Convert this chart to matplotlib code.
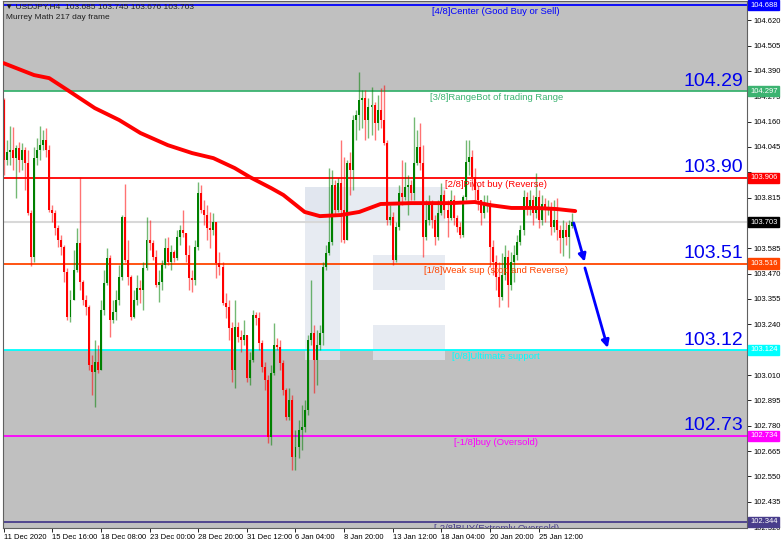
import matplotlib
matplotlib.use('Agg')
import matplotlib.pyplot as plt
import matplotlib.patches as mpatches
import matplotlib.transforms as mtransforms
import numpy as np

plt.rcParams['font.family'] = ['Liberation Sans', 'DejaVu Sans']

# USDJPY H4 candles (bar 0 = 11 Dec 2020 00:00)
first_open = 104.258
closes = [
    103.985, 104.022, 104.031, 103.994, 104.040, 103.985, 104.031, 103.972, 103.745, 103.546,
    103.994, 104.031, 104.053, 104.076, 104.031, 103.759, 103.745, 103.677, 103.623, 103.591,
    103.478, 103.273, 103.350, 103.487, 103.609, 103.432, 103.350, 103.319, 103.056, 103.024,
    103.069, 103.033, 103.305, 103.428, 103.541, 103.260, 103.296, 103.350, 103.455, 103.727,
    103.532, 103.455, 103.273, 103.350, 103.405, 103.396, 103.496, 103.623, 103.609, 103.546,
    103.419, 103.432, 103.509, 103.586, 103.523, 103.568, 103.541, 103.636, 103.668, 103.654,
    103.555, 103.450, 103.441, 103.591, 103.836, 103.759, 103.736, 103.677, 103.668, 103.704,
    103.518, 103.500, 103.337, 103.319, 103.224, 103.033, 103.228, 103.183, 103.169, 103.192,
    102.997, 103.078, 103.282, 103.269, 103.156, 103.047, 102.988, 102.729, 103.019, 103.147,
    103.137, 103.065, 102.942, 102.820, 102.897, 102.639, 102.684, 102.761, 102.775, 102.852,
    103.169, 103.201, 103.078, 103.147, 103.201, 103.500, 103.564, 103.614, 103.872, 103.759,
    103.881, 103.759, 103.623, 103.972, 103.940, 104.167, 104.189, 104.258, 104.267, 104.167,
    104.226, 104.235, 104.153, 104.212, 104.167, 104.063, 103.713, 103.727, 103.532, 103.682,
    103.836, 103.818, 103.863, 103.872, 103.836, 103.972, 104.044, 103.972, 103.636, 103.713,
    103.790, 103.713, 103.636, 103.745, 103.827, 103.759, 103.722, 103.804, 103.722,
    103.682, 103.645, 103.818, 103.976, 103.999, 103.908, 103.849, 103.804, 103.745,
    103.781, 103.790, 103.591, 103.523, 103.455, 103.364, 103.464, 103.546, 103.419, 103.523,
    103.555, 103.614, 103.668, 103.818, 103.772, 103.804, 103.745, 103.818, 103.713, 103.786,
    103.759, 103.768, 103.682, 103.713, 103.668, 103.632, 103.668, 103.636, 103.691, 103.703,
]
highs = [
    104.267, 104.076, 104.140, 104.135, 104.053, 104.067, 104.063, 104.044, 104.031, 103.759,
    104.044, 104.085, 104.140, 104.121, 104.131, 104.053, 103.781, 103.759, 103.691, 103.645,
    103.600, 103.496, 103.396, 103.577, 103.677, 103.908, 103.441, 103.373, 103.328, 103.101,
    103.169, 103.147, 103.350, 103.487, 103.586, 103.555, 103.350, 103.396, 103.509, 103.736,
    103.877, 103.623, 103.464, 103.396, 103.464, 103.441, 103.523, 103.727, 103.713, 103.623,
    103.577, 103.487, 103.532, 103.632, 103.636, 103.600, 103.577, 103.668, 103.691, 103.759,
    103.623, 103.600, 103.487, 103.623, 103.886, 103.872, 103.804, 103.781, 103.750, 103.745,
    103.677, 103.568, 103.523, 103.382, 103.350, 103.251, 103.350, 103.251, 103.214, 103.260,
    103.169, 103.115, 103.305, 103.296, 103.296, 103.169, 103.069, 103.010, 103.056, 103.246,
    103.178, 103.169, 103.078, 102.951, 102.951, 102.920, 102.761, 102.806, 102.874, 102.897,
    103.192, 103.441, 103.237, 103.214, 103.237, 103.523, 103.600, 103.949, 103.940, 103.895,
    103.904, 104.076, 103.999, 103.985, 104.022, 104.189, 104.212, 104.384, 104.303, 104.303,
    104.267, 104.316, 104.248, 104.280, 104.312, 104.326, 104.076, 103.781, 103.750, 103.704,
    103.872, 103.985, 103.976, 103.917, 103.895, 104.180, 104.121, 104.153, 104.053, 103.804,
    103.827, 103.804, 103.736, 103.804, 103.881, 103.849, 103.804, 103.849, 103.827,
    103.736, 103.704, 103.827, 104.076, 104.076, 104.031, 103.949, 103.872, 103.804,
    103.827, 103.827, 103.804, 103.623, 103.555, 103.523, 103.564, 103.600, 103.577, 103.568,
    103.600, 103.645, 103.691, 103.849, 103.840, 103.849, 103.827, 103.926, 103.849, 103.827,
    103.813, 103.804, 103.795, 103.804, 103.813, 103.691, 103.713, 103.704, 103.713, 103.745,
]
lows = [
    103.917, 103.963, 103.963, 103.940, 103.813, 103.931, 103.940, 103.849, 103.736, 103.505,
    103.523, 103.963, 103.985, 104.031, 103.999, 103.750, 103.704, 103.645, 103.591, 103.555,
    103.432, 103.260, 103.251, 103.350, 103.478, 103.396, 103.328, 103.282, 103.033, 102.920,
    102.865, 103.019, 103.033, 103.282, 103.419, 103.183, 103.246, 103.260, 103.328, 103.441,
    103.523, 103.419, 103.260, 103.269, 103.328, 103.337, 103.305, 103.487, 103.577, 103.532,
    103.410, 103.341, 103.396, 103.496, 103.509, 103.487, 103.523, 103.532, 103.600, 103.636,
    103.523, 103.396, 103.387, 103.419, 103.577, 103.745, 103.691, 103.623, 103.586, 103.645,
    103.450, 103.464, 103.328, 103.269, 103.169, 102.979, 102.951, 103.160, 103.115, 103.147,
    102.979, 102.965, 103.069, 103.237, 103.124, 103.024, 102.942, 102.702, 102.693, 103.010,
    103.124, 103.033, 102.920, 102.806, 102.806, 102.580, 102.580, 102.634, 102.670, 102.752,
    102.829, 103.147, 102.929, 102.965, 103.124, 103.147, 103.487, 103.555, 103.600, 103.736,
    103.750, 103.614, 103.609, 103.668, 103.827, 103.849, 104.076, 104.121, 104.131, 104.076,
    104.085, 104.099, 104.076, 104.121, 104.131, 104.053, 103.691, 103.691, 103.509, 103.523,
    103.668, 103.781, 103.804, 103.736, 103.804, 103.804, 103.963, 103.940, 103.546, 103.623,
    103.691, 103.677, 103.600, 103.623, 103.736, 103.722, 103.636, 103.713, 103.691,
    103.659, 103.632, 103.636, 103.804, 103.917, 103.849, 103.804, 103.759, 103.691,
    103.722, 103.750, 103.500, 103.464, 103.396, 103.319, 103.350, 103.441, 103.319, 103.396,
    103.432, 103.532, 103.600, 103.645, 103.736, 103.736, 103.691, 103.722, 103.677, 103.691,
    103.704, 103.736, 103.645, 103.659, 103.623, 103.564, 103.550, 103.600, 103.541, 103.676,
]
last_open = 103.685

# moving average (thick red line)
ma_bars = [0, 10, 15, 21, 30, 38, 45, 54, 62, 69, 76, 81, 88, 92, 99, 104, 111,
           117, 124, 134, 147, 155, 160, 167, 175, 182, 188]
ma_values = [104.425, 104.371, 104.357, 104.303, 104.221, 104.167, 104.108, 104.053,
             104.017, 103.994, 103.949, 103.908, 103.858, 103.827, 103.750, 103.731,
             103.736, 103.750, 103.786, 103.790, 103.790, 103.795, 103.781, 103.768,
             103.768, 103.763, 103.754]

# Murrey Math levels
levels = [104.688, 104.297, 103.906, 103.516, 103.124, 102.734, 102.344]
level_names = ['[4/8]Center (Good Buy or Sell)', '[3/8]RangeBot of trading Range',
               '[2/8]Pivot buy (Reverse)', '[1/8]Weak sup (stop and Reverse)',
               '[0/8]Ultimate support', '[-1/8]buy (Oversold)', '[-2/8]BUY(Extremly Oversold)']
level_colors = ['#0000ff', '#3cb371', '#ff0000', '#ff4500', '#00ffff', '#ff00ff', '#483d8b']
big_labels = ['104.29', '103.90', '103.51', '103.12', '102.73']
current_price = 103.703

# forecast arrows (bar, price)
arrow_starts = [(187.5, 103.700), (191.2, 103.496)]
arrow_ends = [(191.1, 103.524), (198.7, 103.133)]

tick_bars = [0, 16, 32, 48, 64, 80, 96, 112, 128, 144, 160, 176]
tick_labels = ['11 Dec 2020', '15 Dec 16:00', '18 Dec 08:00', '23 Dec 00:00',
               '28 Dec 20:00', '31 Dec 12:00', '6 Jan 04:00', '8 Jan 20:00',
               '13 Jan 12:00', '18 Jan 04:00', '20 Jan 20:00', '25 Jan 12:00']
y_ticks = [102.320, 102.435, 102.550, 102.665, 102.780, 102.895, 103.010, 103.125,
           103.240, 103.355, 103.470, 103.585, 103.700, 103.815, 103.930, 104.045,
           104.160, 104.275, 104.390, 104.505, 104.620]

fig = plt.figure(figsize=(7.82, 5.46), dpi=100)
ax = fig.add_axes([3/782, 18/546, 744/782, 527/546])
ax.set_xlim(-0.2, 244.5)
ax.set_ylim(102.316, 104.707)

# gray zones above 3/8 and below 0/8
ax.axhspan(levels[1], 104.707, color='#c0c0c0', zorder=0, lw=0)
ax.axhspan(102.316, levels[4], color='#c0c0c0', zorder=0, lw=0)

# watermark logo (image pixel coordinates)
px = mtransforms.Affine2D().scale(1/782, -1/546).translate(0, 1) + fig.transFigure
wm = '#dfe5ee'
for (x0, y0, w, h) in [(305, 187, 35, 173), (305, 187, 140, 35), (373, 255, 72, 35),
                       (373, 325, 72, 35)]:
    ax.add_patch(mpatches.Rectangle((x0, y0), w, h, transform=px, fc=wm, ec='none',
                                    alpha=0.75, zorder=0.5))

ax.axhline(current_price, color='#d8d8d8', lw=1.5, zorder=1)
for lv, col in zip(levels, level_colors):
    ax.axhline(lv, color=col, lw=1.3, zorder=1.5)

# candles
opens = [first_open] + closes[:-1]
opens[-1] = last_open
x = np.arange(len(closes))
o = np.array(opens)
c = np.array(closes)
h = np.maximum(np.array(highs), np.maximum(o, c))
l = np.minimum(np.array(lows), np.minimum(o, c))
up = c >= o
cols = np.where(up, '#008000', '#ff0000')
ax.vlines(x, l, h, colors=cols, lw=1, alpha=0.55, zorder=2)
body = np.maximum(np.abs(c - o), 0.005)
ax.bar(x, body, bottom=np.minimum(o, c), width=0.65, color=cols, lw=0, zorder=2.2)

ax.plot(ma_bars, ma_values, color='#ff0000', lw=2.8, solid_capstyle='round', zorder=3)

for (x0, y0), (x1, y1) in zip(arrow_starts, arrow_ends):
    ax.annotate('', xy=(x1, y1), xytext=(x0, y0),
                arrowprops=dict(arrowstyle='-|>', color='#0000ff', lw=2,
                                mutation_scale=11, shrinkA=0, shrinkB=0), zorder=4)

# level captions
for lv, name, col in zip(levels, level_names, level_colors):
    ax.annotate(name, xy=(162, lv), xytext=(0, -1.5), textcoords='offset points',
                ha='center', va='top', fontsize=6.8, color=col, zorder=4,
                annotation_clip=False, clip_on=True)
for lv, lab in zip(levels[1:6], big_labels):
    ax.annotate(lab, xy=(0.995, lv), xycoords=ax.get_yaxis_transform(),
                xytext=(0, 1), textcoords='offset points', ha='right', va='bottom',
                fontsize=14, color='#0000ee', zorder=4)

# right axis; labels hidden where a level box sits on top of them
box_values = levels + [current_price]
ax.yaxis.tick_right()
ax.set_yticks(y_ticks)
ax.set_yticklabels(['' if min(abs(v - b) for b in box_values) < 0.03 and v not in (104.275, 102.320)
                    else f'{v:.3f}' for v in y_ticks])
ax.tick_params(axis='y', labelsize=5.5, length=3, width=0.6, pad=2, colors='#000000')
ax.set_xticks(tick_bars)
ax.set_xticklabels(tick_labels)
ax.tick_params(axis='x', labelsize=5.5, length=3, width=0.6, pad=1.5)
for t in ax.get_xticklabels():
    t.set_ha('left')

for lv, col in zip(box_values, level_colors + ['#000000']):
    ax.text(1.004, lv, f'{lv:.3f}', transform=ax.get_yaxis_transform(), va='center',
            ha='left', fontsize=5.5, color='white', zorder=5, clip_on=False,
            bbox=dict(boxstyle='square,pad=0.2', fc=col, ec=col))

for s in ax.spines.values():
    s.set_color('#606060')
    s.set_linewidth(0.8)

ax.text(0.003, 0.997, '\u25bc USDJPY,H4  103.685 103.745 103.676 103.703', transform=ax.transAxes,
        ha='left', va='top', fontsize=6, color='#202020', zorder=5)
ax.text(0.004, 0.975, 'Murrey Math 217 day frame', transform=ax.transAxes,
        ha='left', va='top', fontsize=6, color='#202020', zorder=5)

fig.savefig('out.png', dpi=100)
